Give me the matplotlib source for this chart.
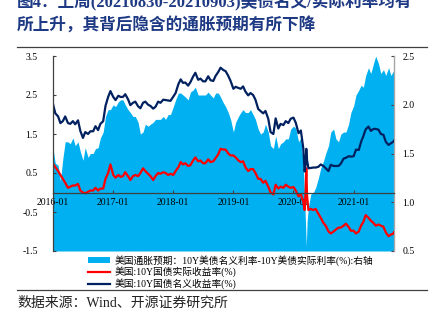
import matplotlib
matplotlib.use('Agg')
import matplotlib.pyplot as plt
import matplotlib.dates as mdates
from matplotlib.lines import Line2D
from matplotlib.patches import Patch
import pandas as pd

plt.rcParams['font.family'] = ['Liberation Serif', 'Noto Sans CJK SC']
plt.rcParams['axes.unicode_minus'] = False

# 1st / 15th of each month, 2016-01 .. 2021-09, plus the last day of the week
dates = list(pd.date_range('2016-01-01', '2021-09-01', freq='SMS')) + [pd.Timestamp('2021-09-03')]

# 10Y nominal yield (%)
nominal = [
    2.27, 2.03, 1.95, 1.78, 1.83, 1.95, 1.78, 1.76, 1.83, 1.75, 1.85, 1.58,
    1.40, 1.55, 1.50, 1.57, 1.57, 1.70, 1.60, 1.76, 1.83, 2.22, 2.45, 2.60,
    2.45, 2.37, 2.48, 2.45, 2.45, 2.52, 2.39, 2.24, 2.30, 2.33, 2.21, 2.16,
    2.30, 2.33, 2.25, 2.22, 2.15, 2.20, 2.33, 2.30, 2.38, 2.37, 2.36, 2.35,
    2.46, 2.55, 2.78, 2.90, 2.81, 2.82, 2.74, 2.83, 2.97, 3.07, 2.89, 2.92,
    2.85, 2.85, 2.98, 2.88, 2.86, 2.99, 3.09, 3.20, 3.14, 3.11, 2.99, 2.86,
    2.66, 2.71, 2.68, 2.66, 2.72, 2.59, 2.49, 2.55, 2.50, 2.38, 2.14, 2.09,
    2.03, 2.09, 1.89, 1.55, 1.50, 1.90, 1.64, 1.76, 1.73, 1.83, 1.78, 1.89,
    1.92, 1.79, 1.52, 1.59, 1.13, 0.73, 0.62, 0.63, 0.64, 0.64, 0.66, 0.72,
    0.68, 0.62, 0.55, 0.71, 0.68, 0.68, 0.68, 0.74, 0.87, 0.89, 0.93, 0.92,
    0.93, 1.10, 1.09, 1.30, 1.45, 1.62, 1.69, 1.58, 1.63, 1.63, 1.61, 1.50,
    1.48, 1.30, 1.22, 1.26, 1.31, 1.33,
]

# 10Y real (TIPS) yield (%)
real = [
    0.74, 0.65, 0.55, 0.45, 0.35, 0.25, 0.12, 0.15, 0.18, 0.18, 0.22, 0.05,
    0.00, -0.02, 0.02, 0.05, 0.05, 0.12, 0.05, 0.10, 0.10, 0.35, 0.50, 0.72,
    0.45, 0.38, 0.45, 0.40, 0.42, 0.52, 0.42, 0.32, 0.42, 0.45, 0.42, 0.50,
    0.62, 0.55, 0.48, 0.42, 0.32, 0.42, 0.50, 0.48, 0.52, 0.50, 0.45, 0.48,
    0.45, 0.55, 0.65, 0.78, 0.72, 0.75, 0.68, 0.70, 0.82, 0.90, 0.80, 0.82,
    0.75, 0.75, 0.85, 0.78, 0.80, 0.88, 0.98, 1.12, 1.10, 1.10, 1.00, 0.95,
    0.95, 0.90, 0.82, 0.78, 0.80, 0.65, 0.55, 0.60, 0.60, 0.50, 0.35, 0.35,
    0.25, 0.30, 0.15, 0.00, -0.05, 0.20, 0.10, 0.15, 0.12, 0.20, 0.15, 0.12,
    0.14, 0.05, -0.10, -0.05, -0.25, 0.05, -0.45, -0.42, -0.45, -0.42, -0.55, -0.65,
    -0.78, -0.85, -1.00, -1.05, -1.00, -0.95, -0.90, -0.90, -0.85, -0.80, -0.88, -0.98,
    -0.98, -1.05, -1.00, -0.85, -0.75, -0.58, -0.65, -0.72, -0.78, -0.85, -0.82, -0.85,
    -0.88, -1.02, -1.12, -1.08, -1.05, -1.02,
]

# breakeven inflation = nominal - real (%), right axis
breakeven = [
    1.55, 1.40, 1.38, 1.22, 1.45, 1.62, 1.62, 1.60, 1.66, 1.58, 1.62, 1.52,
    1.43, 1.56, 1.46, 1.50, 1.50, 1.55, 1.56, 1.66, 1.72, 1.88, 1.95, 1.95,
    2.00, 1.98, 2.03, 2.05, 2.05, 2.00, 1.95, 1.92, 1.88, 1.88, 1.82, 1.70,
    1.72, 1.80, 1.78, 1.80, 1.82, 1.85, 1.85, 1.85, 1.88, 1.85, 1.90, 1.90,
    1.98, 2.05, 2.12, 2.12, 2.10, 2.08, 2.05, 2.13, 2.15, 2.18, 2.10, 2.10,
    2.10, 2.10, 2.13, 2.10, 2.07, 2.12, 2.12, 2.08, 2.02, 1.98, 1.92, 1.85,
    1.72, 1.82, 1.88, 1.92, 1.95, 1.92, 1.92, 1.95, 1.90, 1.85, 1.75, 1.70,
    1.72, 1.80, 1.72, 1.58, 1.55, 1.68, 1.55, 1.60, 1.62, 1.65, 1.65, 1.75,
    1.78, 1.76, 1.62, 1.66, 1.38, 0.75, 0.95, 1.08, 1.10, 1.15, 1.25, 1.35,
    1.42, 1.50, 1.58, 1.72, 1.75, 1.65, 1.62, 1.70, 1.72, 1.72, 1.80, 1.92,
    1.99, 2.10, 2.15, 2.20, 2.18, 2.30, 2.38, 2.32, 2.42, 2.50, 2.42, 2.32,
    2.36, 2.30, 2.38, 2.30, 2.35, 2.28,
]

# extra points around the March 2020 sell-off
crash_dates = [pd.Timestamp('2020-03-09'), pd.Timestamp('2020-03-19'), pd.Timestamp('2020-03-24')]
crash_nominal = [0.54, 1.12, 0.82]
crash_real = [-0.45, 0.62, -0.10]
crash_breakeven = [1.02, 0.55, 0.80]

df = pd.DataFrame({'nominal': nominal, 'real': real, 'be': breakeven}, index=dates)
crash = pd.DataFrame({'nominal': crash_nominal, 'real': crash_real, 'be': crash_breakeven}, index=crash_dates)
df = pd.concat([df, crash]).sort_index()

left_ticks = [-1.5, -0.5, 0.5, 1.5, 2.5, 3.5]
right_ticks = [0.5, 1.0, 1.5, 2.0, 2.5]
labels = ['美国通胀预期：10Y美债名义利率-10Y美债实际利率(%):右轴',
          '美国:10Y国债实际收益率(%)',
          '美国:10Y国债名义收益率(%)']

BLUE = '#00B0F0'
RED = '#FF0000'
NAVY = '#002060'
TITLE = '#1F3A84'

W, H = 432, 326
fig = plt.figure(figsize=(W / 100, H / 100), dpi=100)
ax = fig.add_axes([53 / W, 1 - 251 / H, (394 - 53) / W, 195 / H])
ax2 = ax.twinx()

ax2.fill_between(df.index, 0.5, df['be'], color=BLUE, lw=0)
ax.plot(df.index, df['real'], color=RED, lw=1.6)
ax.plot(df.index, df['nominal'], color=NAVY, lw=1.6)

# lines over the area
ax.set_zorder(ax2.get_zorder() + 1)
ax.patch.set_visible(False)

ax.set_xlim(pd.Timestamp('2016-01-01'), pd.Timestamp('2021-09-03'))
ax.set_ylim(-1.5, 3.5)
ax2.set_ylim(0.5, 2.5)
ax.set_yticks(left_ticks)
ax.set_yticklabels([f'{t:.1f}' for t in left_ticks])
ax2.set_yticks(right_ticks)
ax2.set_yticklabels([f'{t:.1f}' for t in right_ticks])

ax.xaxis.set_major_locator(mdates.YearLocator())
ax.xaxis.set_major_formatter(mdates.DateFormatter('%Y-%m'))

ax.spines['bottom'].set_position(('data', 0))
ax.spines['bottom'].set_color('#404040')
ax.spines['bottom'].set_linewidth(0.9)
ax.spines['left'].set_color('#404040')
ax.spines['left'].set_linewidth(0.9)
for s in ['top', 'right']:
    ax.spines[s].set_visible(False)
for s in ['top', 'left', 'bottom']:
    ax2.spines[s].set_visible(False)
ax2.spines['right'].set_color('#A6A6A6')
ax2.spines['right'].set_linewidth(1.0)

ax.tick_params(axis='x', direction='in', length=2.5, pad=4, labelsize=7, color='#404040')
ax.tick_params(axis='y', direction='in', length=2.5, pad=11, labelsize=7, color='#404040')
ax2.tick_params(axis='y', direction='in', length=2.5, pad=6, labelsize=7, color='#404040')

handles = [Patch(color=BLUE, lw=0), Line2D([], [], color=RED, lw=1.6), Line2D([], [], color=NAVY, lw=1.6)]
fig.legend(handles, labels, loc='upper left', bbox_to_anchor=(82 / W, 1 - 249 / H),
           frameon=False, fontsize=7, handlelength=2.3, handleheight=0.6,
           handletextpad=0.5, labelspacing=0.1, borderpad=0.1)

# title, rules and source line
fig.text(17 / W, 1 - 2 / H, '图4：上周(20210830-20210903)美债名义/实际利率均有',
         fontsize=12, fontweight='bold', color=TITLE, va='center', ha='left')
fig.text(17 / W, 1 - 25 / H, '所上升，其背后隐含的通胀预期有所下降',
         fontsize=12, fontweight='bold', color=TITLE, va='center', ha='left')
fig.add_artist(Line2D([17 / W, 427 / W], [1 - 46.5 / H] * 2, color='#404040', lw=0.9))
fig.add_artist(Line2D([17 / W, 427 / W], [1 - 289.5 / H] * 2, color='#404040', lw=0.9))
fig.text(17 / W, 1 - 303 / H, '数据来源：Wind、开源证券研究所', fontsize=10, color='#222222',
         va='center', ha='left')

fig.savefig('out.png', dpi=100)
